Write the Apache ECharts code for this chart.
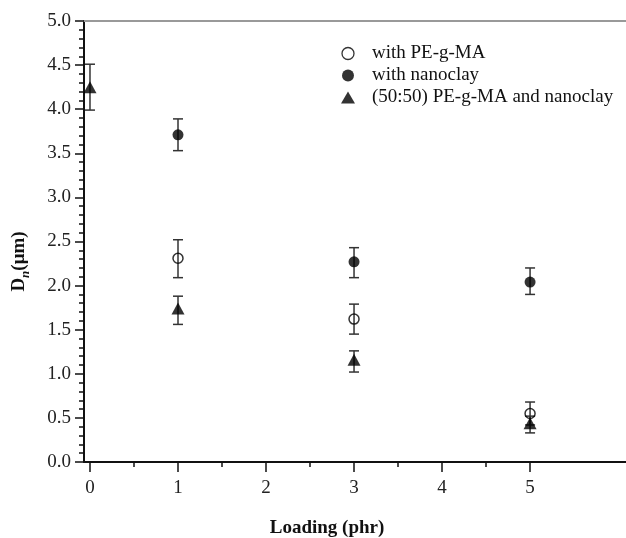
<!DOCTYPE html>
<html>
<head>
<meta charset="utf-8">
<script src="https://cdn.jsdelivr.net/npm/echarts@6.0.0/dist/echarts.min.js"></script>
<style>
  html, body { margin: 0; padding: 0; background: #fff; }
  #chart { width: 626px; height: 538px; }
</style>
</head>
<body>
<div id="chart"></div>
<script>
// loading levels (phr)
const loadingTicks = [0, 1, 2, 3, 4, 5]
const halfTicks = [0.5, 1.5, 2.5, 3.5, 4.5]

// with PE-g-MA
const pegmaX = [1, 3, 5]
const pegmaMean = [2.31, 1.62, 0.55]
const pegmaLow = [2.09, 1.45, 0.42]
const pegmaHigh = [2.52, 1.79, 0.68]

// with nanoclay
const clayX = [1, 3, 5]
const clayMean = [3.71, 2.27, 2.04]
const clayLow = [3.53, 2.09, 1.90]
const clayHigh = [3.89, 2.43, 2.20]

// (50:50) PE-g-MA and nanoclay
const blendX = [0, 1, 3, 5]
const blendMean = [4.25, 1.74, 1.16, 0.44]
const blendLow = [3.99, 1.56, 1.02, 0.33]
const blendHigh = [4.51, 1.88, 1.26, 0.52]

const names = ['with PE-g-MA', 'with nanoclay', '(50:50) PE-g-MA and nanoclay']

const font = '"Liberation Serif", "Times New Roman", serif'
const xMin = -0.068
const xMax = 6.09

const pts = (xs, ys) => xs.map((x, i) => [x, ys[i]])
const bars = (xs, lo, hi) => xs.map((x, i) => [x, lo[i], hi[i]])

// error bar: vertical line + two caps
const renderError = (params, api) => {
  const x = api.value(0)
  const lo = api.coord([x, api.value(1)])
  const hi = api.coord([x, api.value(2)])
  const w = 5
  const style = { stroke: '#333', lineWidth: 1.5 }
  return {
    type: 'group',
    children: [
      { type: 'line', shape: { x1: lo[0], y1: lo[1], x2: hi[0], y2: hi[1] }, style },
      { type: 'line', shape: { x1: lo[0] - w, y1: lo[1], x2: lo[0] + w, y2: lo[1] }, style },
      { type: 'line', shape: { x1: hi[0] - w, y1: hi[1], x2: hi[0] + w, y2: hi[1] }, style }
    ]
  }
}

const errorSeries = (data) => ({
  type: 'custom',
  renderItem: renderError,
  encode: { x: 0, y: [1, 2] },
  data,
  z: 3,
  silent: true
})

const chart = echarts.init(document.getElementById('chart'))

const option = {
  animation: false,
  textStyle: { fontFamily: font },
  grid: { left: 84, right: 0, top: 21, bottom: 76, outerBoundsMode: 'none' },
  legend: {
    orient: 'vertical',
    left: 336,
    top: 39,
    itemWidth: 14,
    itemHeight: 12,
    itemGap: 3,
    textStyle: { fontFamily: font, fontSize: 19, color: '#111', padding: [0, 0, 0, 12] },
    data: [
      { name: names[0], icon: 'circle', itemStyle: { color: '#fff', borderColor: '#000', borderWidth: 1.3 } },
      { name: names[1], icon: 'circle', itemStyle: { color: '#000', borderWidth: 0 } },
      { name: names[2], icon: 'triangle', itemStyle: { color: '#000', borderWidth: 0 } }
    ]
  },
  xAxis: [
    {
      type: 'value',
      position: 'bottom',
      min: xMin,
      max: xMax,
      name: 'Loading (phr)',
      nameLocation: 'middle',
      nameGap: 57,
      nameTextStyle: { fontFamily: font, fontSize: 19, fontWeight: 'bold', color: '#111', padding: [0, 56, 0, 0] },
      axisLine: { show: true, onZero: false, lineStyle: { color: '#111', width: 2 } },
      axisTick: { show: true, customValues: loadingTicks, length: 10, lineStyle: { color: '#111', width: 1.5 } },
      axisLabel: { customValues: loadingTicks, fontFamily: font, fontSize: 19, color: '#222', margin: 17 },
      splitLine: { show: false }
    },
    {
      type: 'value',
      position: 'top',
      min: xMin,
      max: xMax,
      axisLine: { show: true, onZero: false, lineStyle: { color: '#999', width: 2 } },
      axisTick: { show: false },
      axisLabel: { show: false },
      splitLine: { show: false }
    },
    {
      type: 'value',
      position: 'bottom',
      min: xMin,
      max: xMax,
      axisLine: { show: false, onZero: false },
      axisTick: { show: true, customValues: halfTicks, length: 5, lineStyle: { color: '#111', width: 1.5 } },
      axisLabel: { show: false },
      splitLine: { show: false }
    }
  ],
  yAxis: {
    type: 'value',
    min: 0,
    max: 5,
    interval: 0.5,
    name: '{d|D}{n|n}{u|(μm)}',
    nameLocation: 'middle',
    nameRotate: 90,
    nameGap: 52,
    nameTextStyle: {
      padding: [0, 40, 0, 0],
      rich: {
        d: { fontFamily: font, fontSize: 19, fontWeight: 'bold', color: '#111', lineHeight: 26 },
        n: { fontFamily: font, fontSize: 13, fontWeight: 'bold', fontStyle: 'italic', color: '#111', lineHeight: 14, verticalAlign: 'bottom' },
        u: { fontFamily: font, fontSize: 19, fontWeight: 'bold', color: '#111', lineHeight: 26 }
      }
    },
    axisLine: { show: true, onZero: false, lineStyle: { color: '#111', width: 2 } },
    axisTick: { show: true, length: 9, lineStyle: { color: '#111', width: 1.5 } },
    minorTick: { show: true, splitNumber: 5, length: 5, lineStyle: { color: '#111', width: 1.5 } },
    axisLabel: { fontFamily: font, fontSize: 19, color: '#222', margin: 13, formatter: v => v.toFixed(1) },
    splitLine: { show: false }
  },
  series: [
    errorSeries(bars(pegmaX, pegmaLow, pegmaHigh)),
    errorSeries(bars(clayX, clayLow, clayHigh)),
    errorSeries(bars(blendX, blendLow, blendHigh)),
    {
      name: names[0],
      type: 'scatter',
      symbol: 'circle',
      symbolSize: 10,
      itemStyle: { color: 'rgba(255,255,255,0)', borderColor: '#000', borderWidth: 1.5 },
      data: pts(pegmaX, pegmaMean),
      z: 4
    },
    {
      name: names[1],
      type: 'scatter',
      symbol: 'circle',
      symbolSize: 11,
      itemStyle: { color: '#000' },
      data: pts(clayX, clayMean),
      z: 4
    },
    {
      name: names[2],
      type: 'scatter',
      symbol: 'triangle',
      symbolSize: [13, 12],
      itemStyle: { color: '#000' },
      data: pts(blendX, blendMean),
      z: 4
    }
  ]
}

chart.setOption(option)
</script>
</body>
</html>
